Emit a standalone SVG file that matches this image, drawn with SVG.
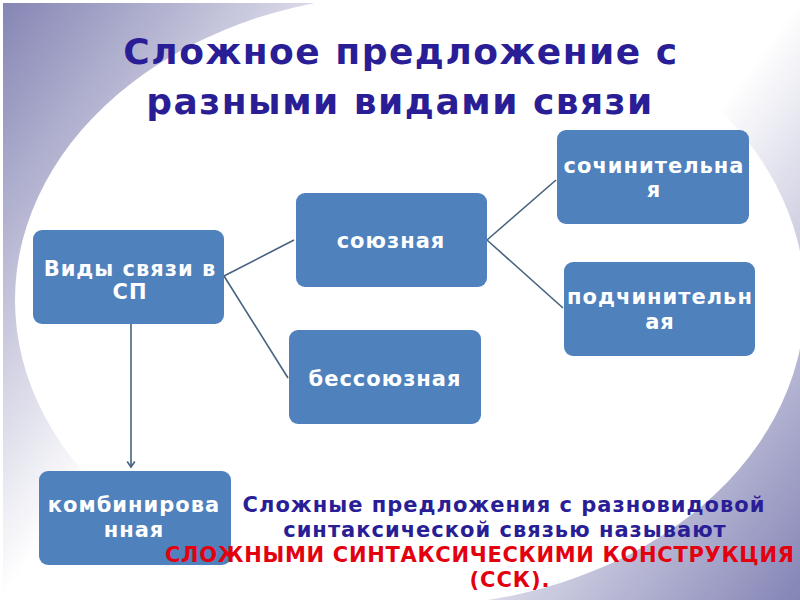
<svg xmlns="http://www.w3.org/2000/svg" width="800" height="600" viewBox="0 0 800 600">
<defs>
<linearGradient id="bg" x1="0" y1="0" x2="800" y2="600" gradientUnits="userSpaceOnUse">
<stop offset="0" stop-color="#8484b4"/>
<stop offset="0.36" stop-color="#ffffff"/>
<stop offset="0.64" stop-color="#ffffff"/>
<stop offset="1" stop-color="#8484b6"/>
</linearGradient>
<marker id="arr" markerWidth="10" markerHeight="10" refX="7" refY="5" orient="auto" markerUnits="userSpaceOnUse" viewBox="0 0 10 10">
<path d="M1.5,1.2 L7,5 L1.5,8.8" fill="none" stroke="#46627f" stroke-width="1.6"/>
</marker>
</defs>
<style>
.node rect{fill:#4f81bd;}
.node text{fill:#ffffff;font-family:"DejaVu Sans",sans-serif;font-weight:bold;font-size:21px;letter-spacing:1px;text-anchor:middle;}
.title{fill:#2a1e96;font-family:"DejaVu Sans",sans-serif;font-weight:bold;font-size:36px;letter-spacing:1.5px;text-anchor:middle;}
.note{fill:#2a1e96;font-family:"DejaVu Sans",sans-serif;font-weight:bold;font-size:21px;letter-spacing:1px;text-anchor:middle;}
.red{fill:#e3000f;font-family:"DejaVu Sans",sans-serif;font-weight:bold;font-size:21px;letter-spacing:1px;}
.conn line{stroke:#46627f;stroke-width:1.6;}
</style>
<rect x="0" y="0" width="800" height="600" fill="#ffffff"/>
<rect x="3" y="3" width="797" height="597" fill="url(#bg)"/>
<ellipse cx="410" cy="300" rx="395" ry="306" fill="#ffffff"/>
<text class="title" x="401" y="64">Сложное предложение с</text>
<text class="title" x="400" y="114">разными видами связи</text>
<g class="conn">
<line x1="224" y1="276" x2="294" y2="240"/>
<line x1="224" y1="276" x2="288" y2="378"/>
<line x1="487" y1="240" x2="556" y2="180"/>
<line x1="487" y1="240" x2="563" y2="308"/>
<line x1="131" y1="324" x2="131" y2="467" marker-end="url(#arr)"/>
</g>
<g class="node" id="vidy"><rect x="33" y="230" width="191" height="94" rx="9"/><text x="130" y="276">Виды связи в</text><text x="130" y="299">СП</text></g>
<g class="node" id="soyuznaya"><rect x="296" y="193" width="191" height="94" rx="9"/><text x="391" y="248">союзная</text></g>
<g class="node" id="bessoyuznaya"><rect x="289" y="330" width="192" height="94" rx="9"/><text x="385" y="386">бессоюзная</text></g>
<g class="node" id="sochinitelnaya"><rect x="557" y="130" width="192" height="94" rx="9"/><text x="654" y="173">сочинительна</text><text x="654" y="197">я</text></g>
<g class="node" id="podchinitelnaya"><rect x="564" y="262" width="191" height="94" rx="9"/><text x="660" y="304">подчинительн</text><text x="660" y="329">ая</text></g>
<g class="node" id="kombinirovannaya"><rect x="39" y="471" width="192" height="94" rx="9"/><text x="134" y="512">комбинирова</text><text x="134" y="537">нная</text></g>
<text class="note" x="504" y="512">Сложные предложения с разновидовой</text>
<text class="note" x="505" y="537">синтаксической связью называют</text>
<text class="red" x="165" y="562" style="letter-spacing:0.7px">СЛОЖНЫМИ СИНТАКСИЧЕСКИМИ КОНСТРУКЦИЯ</text>
<text class="red" x="510" y="587" text-anchor="middle">(ССК).</text>
</svg>
